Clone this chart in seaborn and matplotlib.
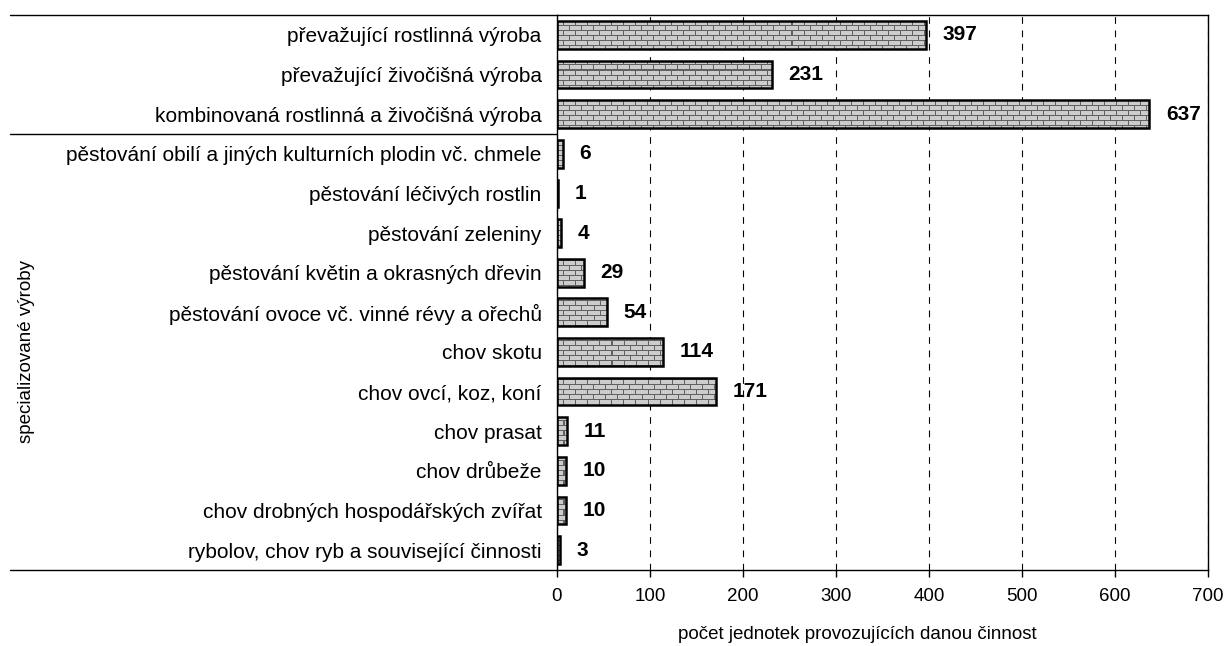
import numpy as np
import pandas as pd
import matplotlib
matplotlib.use("Agg")
import matplotlib.pyplot as plt
import matplotlib.transforms as mtransforms
import seaborn as sns

categories = [
    "převažující rostlinná výroba",
    "převažující živočišná výroba",
    "kombinovaná rostlinná a živočišná výroba",
    "pěstování obilí a jiných kulturních plodin vč. chmele",
    "pěstování léčivých rostlin",
    "pěstování zeleniny",
    "pěstování květin a okrasných dřevin",
    "pěstování ovoce vč. vinné révy a ořechů",
    "chov skotu",
    "chov ovcí, koz, koní",
    "chov prasat",
    "chov drůbeže",
    "chov drobných hospodářských zvířat",
    "rybolov, chov ryb a související činnosti",
]
counts = [397, 231, 637, 6, 1, 4, 29, 54, 114, 171, 11, 10, 10, 3]
group_label = "specializované výroby"
x_label = "počet jednotek provozujících danou činnost"


def brick_texture(width, height, brick_w=12, brick_h=5):
    """Grey brick fill, like the Excel pattern."""
    tex = np.full((height, width, 3), 0.8)
    for row in range(height):
        if row % brick_h == 0:
            tex[row, :, :] = 0.38
            continue
        shift = 0 if (row // brick_h) % 2 == 0 else brick_w // 2
        tex[row, shift::brick_w, :] = 0.38
    return tex


sns.set_style("white")
plt.rcParams["font.family"] = ["Liberation Sans", "DejaVu Sans"]
plt.rcParams["text.color"] = "black"
plt.rcParams["axes.labelcolor"] = "black"
plt.rcParams["xtick.color"] = "black"
plt.rcParams["ytick.color"] = "black"

df = pd.DataFrame({"category": categories, "count": counts})

fig = plt.figure(figsize=(12.3, 6.46), dpi=100)
ax = fig.add_axes([0.4528, 0.1176, 0.5293, 0.8592])

sns.barplot(data=df, x="count", y="category", orient="h", color="#c0c0c0",
            edgecolor="black", linewidth=1.8, width=0.7, ax=ax, zorder=3)
bars = list(ax.patches)

xlim = (0, 700)
ylim = (len(categories) - 0.5, -0.5)
ax.set_xlim(*xlim)
ax.set_ylim(*ylim)

# brick fill clipped to each bar
tex = brick_texture(651, 555)
for bar in bars:
    im = ax.imshow(tex, extent=(xlim[0], xlim[1], ylim[0], ylim[1]), aspect="auto",
                   interpolation="nearest", zorder=2)
    im.set_clip_path(bar)
    bar.set_facecolor("none")

for bar, val in zip(bars, counts):
    ax.annotate(str(val), xy=(bar.get_width(), bar.get_y() + bar.get_height() / 2),
                xytext=(12, 0), textcoords="offset points", ha="left", va="center",
                fontsize=15, fontweight="bold")

ax.set_xticks(range(0, 701, 100))
ax.xaxis.grid(True, linestyle=(0, (6, 6)), color="black", linewidth=0.8)
ax.yaxis.grid(False)
ax.set_axisbelow(True)
ax.tick_params(axis="x", direction="out", length=5, width=1, labelsize=13.5, pad=8,
               bottom=True)
ax.tick_params(axis="y", length=0, labelsize=15, pad=11)
ax.set_ylabel("")
ax.set_xlabel(x_label, fontsize=13.5)
ax.xaxis.set_label_coords(0.461, -0.1)

for spine in ax.spines.values():
    spine.set_color("black")
    spine.set_linewidth(1)

# group separators and group label on the left
trans = mtransforms.blended_transform_factory(ax.transAxes, ax.transData)
for y in [-0.5, 2.5, len(categories) - 0.5]:
    ax.plot([-0.84, 0], [y, y], transform=trans, color="black", linewidth=1,
            clip_on=False)
ax.text(-0.814, 8, group_label, transform=trans, rotation=90, ha="center",
        va="center", fontsize=13.5)

ax.set_xlim(*xlim)
ax.set_ylim(*ylim)

fig.savefig("out.png", dpi=100)
plt.close(fig)
